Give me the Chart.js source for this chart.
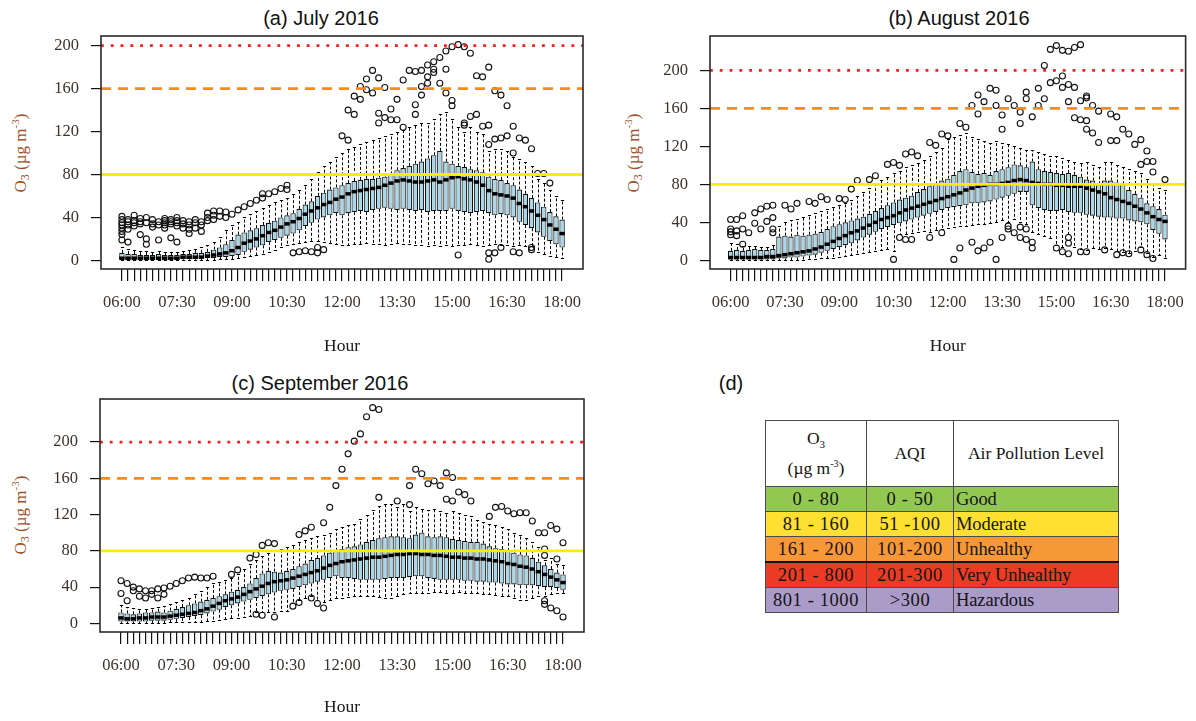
<!DOCTYPE html>
<html>
<head>
<meta charset="utf-8">
<title>Diurnal O3 distributions, summer 2016</title>
<script src="https://cdn.jsdelivr.net/npm/chart.js@4.4.1/dist/chart.umd.min.js"></script>
<style>
  html, body { margin: 0; padding: 0; background: #fff; }
  #page { position: relative; width: 1196px; height: 721px; overflow: hidden; background: #fff; }
  #page canvas { position: absolute; }
  .panel-title { position: absolute; transform: translate(-50%, -50%); font-family: "Liberation Sans", Arial, sans-serif; font-size: 20px; color: #111; white-space: nowrap; }
  .ylab { position: absolute; transform: translate(-50%, -50%) rotate(-90deg); font-family: "Liberation Serif", "Times New Roman", serif; font-size: 17px; color: #a0522d; white-space: nowrap; }
  .ylab sub { font-size: 12px; vertical-align: -3px; }
  .ylab sup { font-size: 11px; vertical-align: 7px; }
  table.aqi { position: absolute; left: 765px; top: 420px; border-collapse: collapse; table-layout: fixed; font-family: "Liberation Serif", "Times New Roman", serif; color: #141414; }
  table.aqi td { border: 1px solid #4a4a4a; padding: 0; text-align: center; vertical-align: middle; line-height: 1; }
  table.aqi tr.head td { height: 65px; background: #fff; font-size: 17.5px; }
  table.aqi tr.head td .l1 { display: block; margin-bottom: 9px; }
  table.aqi tr.band td { height: 24px; font-size: 18.5px; letter-spacing: 0.6px; }
  table.aqi tr.band td.level { text-align: left; padding-left: 2px; letter-spacing: -0.1px; }
  table.aqi tr.heavy td { border-top: 2.5px solid #111; }
  table.aqi sub { font-size: 11px; vertical-align: -4px; }
  table.aqi sup { font-size: 10px; vertical-align: 7px; }
</style>
</head>
<body>
<div id="page">
  <div class="panel-title" style="left:321px; top:18px;">(a) July 2016</div>
  <div class="panel-title" style="left:959px; top:18px;">(b) August 2016</div>
  <div class="panel-title" style="left:320px; top:383px;">(c) September 2016</div>
  <div class="panel-title" style="left:731px; top:383px;">(d)</div>

  <div class="ylab" style="left:21px; top:153px;">O<sub>3</sub> (µg m<sup>-3</sup>)</div>
  <div class="ylab" style="left:634px; top:153px;">O<sub>3</sub> (µg m<sup>-3</sup>)</div>
  <div class="ylab" style="left:21px; top:515px;">O<sub>3</sub> (µg m<sup>-3</sup>)</div>

  <canvas id="julyChart" width="598" height="360" style="left:0; top:0;"></canvas>
  <canvas id="augChart" width="598" height="360" style="left:598px; top:0;"></canvas>
  <canvas id="sepChart" width="598" height="361" style="left:0; top:360px;"></canvas>

  <table class="aqi" id="aqiTable">
    <colgroup><col style="width:101px"><col style="width:87px"><col style="width:165px"></colgroup>
    <tr class="head">
      <td><span class="l1">O<sub>3</sub></span>(µg m<sup>-3</sup>)</td>
      <td>AQI</td>
      <td>Air Pollution Level</td>
    </tr>
  </table>
</div>

<script>
// ---- time axis: one box every 10 minutes from 06:00 to 18:00 ----
const slotCount = 73;
const slotIndex = Array.from({ length: slotCount }, (_, i) => i);
const slotTimes = slotIndex.map(i => {
  const m = 360 + 10 * i;
  return String(Math.floor(m / 60)).padStart(2, '0') + ':' + String(m % 60).padStart(2, '0');
});
const hourLabels = ['06:00', '07:30', '09:00', '10:30', '12:00', '13:30', '15:00', '16:30', '18:00'];
const yTickValues = [0, 40, 80, 120, 160, 200];

// AQI concentration limits drawn as guide lines (µg m-3)
const limitGood = 80;
const limitModerate = 160;
const limitUnhealthy = 200;

// ---- (a) July 2016 ----
const julyLower = [
  0,0,0,0,0,0,0,0,0,
  0,0,0,0,0,0,0,1,1,
  1,2,3,4,5,6,8,10,12,
  14,15,16,17,18,18,17,16,15,
  14,14,15,15,16,15,15,14,15,
  16,15,15,14,14,13,14,13,14,
  13,14,14,15,14,13,14,15,14,
  14,13,14,13,13,8,6,4,3,
  2];
const julyQ1 = [
  1,1,1,1,1,1,1,1,1,
  1,1,1,1,2,2,2,3,3,
  4,5,8,10,12,14,17,19,21,
  23,25,28,32,35,38,40,42,44,
  42,44,45,46,45,47,48,49,48,
  47,48,47,46,47,45,46,46,46,
  48,46,45,44,45,46,44,42,43,
  42,40,36,33,30,26,22,18,15,
  12];
const julyMedian = [
  2,2,2,2,2,2,2,2,2,
  2,3,3,3,3,4,5,6,7,
  9,12,16,18,20,23,26,28,31,
  34,36,39,43,46,49,52,54,57,
  59,62,64,65,66,67,68,70,72,
  74,75,74,73,73,74,75,73,75,
  77,78,76,75,73,70,65,62,61,
  60,58,53,50,46,42,38,33,29,
  25];
const julyQ3 = [
  7,6,6,5,5,5,6,5,5,
  5,6,6,7,7,8,10,12,15,
  19,24,26,28,30,33,35,37,40,
  42,44,48,52,55,60,63,66,68,
  70,72,74,75,76,76,77,78,80,
  84,86,88,90,92,95,98,102,92,
  90,88,87,85,84,82,78,76,75,
  72,70,66,62,58,54,50,45,41,
  38];
const julyUpper = [
  12,11,10,9,9,8,9,8,8,
  8,9,10,11,12,14,17,22,28,
  33,36,40,43,46,49,52,54,56,
  58,62,66,70,76,82,88,92,96,
  100,104,106,108,110,112,114,116,118,
  120,121,124,126,128,128,132,136,138,
  132,124,120,124,120,118,102,104,104,
  102,96,94,92,88,76,72,66,60,
  56];
const julyOutliers = [
  [0,41],[0,38],[0,35],[0,33],[0,30],[0,27],[0,24],[0,19],
  [1,38],[1,36],[1,33],[1,29],[1,17],
  [2,42],[2,37],[2,35],[2,32],
  [3,39],[3,36],[3,34],[3,24],
  [4,40],[4,35],[4,20],[4,15],
  [5,38],[5,34],[5,31],
  [6,36],[6,33],[6,19],
  [7,39],[7,37],[7,35],[7,33],[7,30],
  [8,38],[8,36],[8,34],[8,21],
  [9,40],[9,37],[9,35],[9,32],[9,17],
  [10,37],[10,34],[10,30],
  [11,36],[11,33],[11,29],[11,25],
  [12,38],[12,35],[12,30],
  [13,36],[13,33],[13,27],
  [14,44],[14,40],[14,37],
  [15,46],[15,42],[15,38],
  [16,46],[16,41],[17,45],[17,40],
  [18,43],[19,47],
  [20,50],[21,53],[22,56],[23,58],[23,62],[24,62],[25,64],[26,67],[27,70],[27,66],
  [28,7],[29,8],[30,9],[31,8],[32,12],[33,10],[32,7],
  [36,116],[37,112],[37,140],[38,136],[38,153],[39,150],[39,162],[40,169],[41,177],[40,159],
  [41,156],[42,170],[43,161],[42,137],[42,128],[43,133],[44,141],[44,131],[45,150],[45,131],
  [46,124],[46,168],[47,177],[48,176],[48,145],[48,136],[49,177],[50,182],[50,171],[51,185],
  [51,178],[51,175],[49,162],[49,154],[50,165],[52,189],[52,165],[53,195],[54,199],[55,201],
  [56,199],[57,193],[53,178],[53,156],[54,149],[54,144],[56,126],[56,128],[58,172],[59,171],
  [60,180],[61,158],[62,154],[63,144],[57,134],[58,136],[59,125],[60,126],[60,108],[61,113],
  [62,114],[63,116],[64,125],[65,114],[66,112],[67,104],[64,100],[68,81],[69,81],[70,72],
  [55,5],[60,1],[60,7],[61,7],[62,12],[64,8],[65,7],[67,10],[67,12]
];

// ---- (b) August 2016 ----
const augLower = [
  0,0,0,0,0,0,0,0,0,
  0,0,0,0,1,1,2,2,3,
  4,5,6,7,8,9,10,11,12,
  10,28,28,29,30,31,30,32,33,
  34,35,36,36,37,38,38,39,40,
  42,40,44,40,38,30,28,26,24,
  16,14,28,14,12,11,13,12,13,
  12,10,9,8,10,14,8,4,6,
  2];
const augQ1 = [
  1,1,1,1,1,1,1,1,2,
  2,3,3,4,5,6,8,10,12,
  14,16,18,21,24,27,30,33,35,
  37,39,41,43,45,47,49,51,53,
  55,56,57,58,60,60,61,62,64,
  66,68,70,72,72,58,55,53,52,
  52,53,51,50,50,48,47,46,45,
  45,44,44,42,41,40,38,32,28,
  22];
const augMedian = [
  3,3,3,3,3,3,4,4,5,
  6,7,8,9,10,12,14,17,20,
  23,26,29,31,34,37,40,43,45,
  47,50,53,55,57,59,61,63,65,
  67,69,71,74,76,78,79,80,80,
  81,82,84,85,84,82,81,80,80,
  79,79,78,78,78,76,74,72,70,
  66,64,62,60,57,54,50,46,43,
  41];
const augQ3 = [
  10,11,10,11,12,11,11,12,25,
  26,25,27,26,27,28,30,33,36,
  38,40,42,44,46,49,52,55,58,
  61,64,66,68,72,75,78,80,84,
  86,90,94,96,93,91,92,90,94,
  96,98,101,100,98,104,96,94,93,
  92,91,92,90,88,85,84,80,84,
  84,82,80,74,70,66,60,57,54,
  48];
const augUpper = [
  18,17,15,15,15,14,14,16,36,
  40,42,44,46,48,50,52,54,56,
  58,60,64,68,72,76,80,85,88,
  92,94,98,100,102,106,110,114,118,
  128,130,132,134,130,128,126,124,126,
  124,122,120,118,116,116,114,112,110,
  110,108,106,104,102,104,100,98,104,
  104,100,98,96,94,92,86,80,76,
  74];
const augOutliers = [
  [0,43],[0,33],[0,27],[0,30],[1,43],[1,26],[1,31],[2,47],[2,17],[2,33],
  [3,29],[4,50],[4,39],[5,54],[5,33],[6,57],[6,41],[7,58],[7,45],[7,33],[7,29],
  [9,58],[10,54],[11,60],[13,62],[14,60],[15,67],[16,64],[18,65],[19,64],
  [20,75],[21,84],[23,85],[24,89],[26,101],[27,103],[28,100],[29,112],[30,114],[31,110],
  [33,124],[34,121],[35,133],[36,131],[38,144],[39,140],[40,163],[41,154],[41,174],[42,167],
  [43,181],[44,179],[44,163],[45,153],[45,138],[46,170],[47,163],[48,144],[48,156],[49,177],
  [49,170],[51,163],[51,181],[52,170],[52,205],[50,151],
  [53,222],[54,226],[55,221],[56,220],[57,224],[58,227],[55,194],[53,187],[54,189],[55,182],
  [56,185],[57,182],[59,171],[59,173],[56,167],[58,168],[60,163],[61,157],[63,154],[64,151],
  [57,150],[58,148],[59,147],[59,138],[60,134],[61,124],[63,126],[64,126],[65,138],[66,133],
  [67,122],[68,127],[69,115],[68,101],[69,104],[70,104],[70,93],[72,85],
  [27,1],[28,24],[29,22],[30,22],[33,24],[35,29],[37,1],[38,13],[40,19],[41,10],
  [42,13],[43,19],[44,1],[45,24],[46,33],[47,29],[48,24],[49,22],[50,19],[50,13],
  [46,36],[48,35],[49,33],
  [54,13],[55,9],[56,7],[58,9],[59,9],[62,11],[64,6],[65,8],[66,7],[68,11],
  [69,6],[70,2],[56,24],[56,18]
];

// ---- (c) September 2016 ----
const sepLower = [
  0,0,0,0,0,0,0,0,1,
  1,1,2,2,2,3,3,4,5,
  6,6,7,8,12,12,13,13,14,
  14,22,26,28,30,26,24,26,28,
  28,29,30,30,30,30,29,28,28,
  30,32,34,34,33,34,35,35,34,
  34,35,34,34,33,32,32,31,30,
  30,28,26,26,28,30,30,32,33,
  34];
const sepQ1 = [
  2,2,2,2,2,3,3,3,4,
  5,6,7,8,9,11,13,15,18,
  20,22,24,26,28,30,32,34,36,
  37,38,40,42,44,46,48,50,52,
  50,50,49,48,48,48,48,49,50,
  50,50,51,52,52,50,49,48,48,
  48,48,47,47,46,46,45,45,44,
  43,43,42,42,42,41,40,40,39,
  37];
const sepMedian = [
  6,5,5,6,6,7,7,7,8,
  9,10,11,12,14,16,19,22,25,
  27,29,32,35,38,41,44,46,47,
  48,50,52,54,56,58,61,64,66,
  68,69,70,71,72,73,73,74,75,
  76,76,77,77,76,76,75,75,74,
  73,73,72,72,71,71,70,69,68,
  66,65,63,62,60,57,54,51,48,
  45];
const sepQ3 = [
  12,11,10,11,12,12,13,12,14,
  16,18,20,22,24,26,28,30,32,
  35,37,40,44,50,55,58,57,56,
  58,60,63,66,70,72,75,78,80,
  82,84,85,87,90,92,94,95,96,
  96,95,94,98,100,96,95,96,95,
  93,92,91,90,90,88,85,83,82,
  80,78,76,75,72,68,64,60,56,
  54];
const sepUpper = [
  20,18,17,16,16,17,18,19,21,
  24,26,28,32,36,40,44,46,48,
  50,55,60,66,70,74,78,80,82,
  84,86,90,92,94,96,98,100,104,
  106,108,110,115,120,125,130,132,132,
  128,132,124,128,126,125,126,124,122,
  124,122,120,118,114,112,110,108,106,
  104,100,98,94,90,84,70,72,66,
  64];
const sepOutliers = [
  [0,47],[1,44],[0,33],[2,40],[3,38],[1,25],[2,36],[4,36],[5,36],[6,38],
  [7,39],[8,41],[9,44],[10,47],[11,50],[12,51],[13,50],[4,28],[6,28],[5,32],
  [7,32],[3,30],[14,50],[15,52],
  [18,54],[19,59],[21,72],[22,76],[23,86],[24,89],[25,88],[29,98],[30,102],[31,106],
  [33,111],[34,128],[35,152],[36,170],[37,187],[38,201],[39,209],[40,228],[41,238],[42,236],
  [42,139],[45,135],[47,152],[47,131],[48,170],[49,165],[50,154],[51,157],[52,152],[53,166],
  [54,161],[53,137],[54,135],[55,145],[56,142],[57,135],[60,118],[61,128],[62,129],[63,124],
  [64,121],[65,122],[66,122],[67,113],[68,100],[69,100],[70,108],[71,104],[72,89],[69,82],
  [69,75],[71,71],
  [22,10],[23,9],[25,7],[28,19],[29,23],[31,28],[32,22],[33,17],
  [69,25],[69,21],[70,17],[71,14],[72,7]
];

// ---- (d) AQI classes ----
const bandConcentration = ['0 - 80', '81 - 160', '161 - 200', '201 - 800', '801 - 1000'];
const bandAqi = ['0 - 50', '51 -100', '101-200', '201-300', '>300'];
const bandLevel = ['Good', 'Moderate', 'Unhealthy', 'Very Unhealthy', 'Hazardous'];
const bandColor = ['#92c851', '#fde031', '#f79838', '#ec3b25', '#ab9bc8'];

const table = document.getElementById('aqiTable');
bandLevel.forEach((level, i) => {
  const tr = document.createElement('tr');
  tr.className = 'band' + (level === 'Very Unhealthy' ? ' heavy' : '');
  tr.style.background = bandColor[i];
  [bandConcentration[i], bandAqi[i], level].forEach((txt, c) => {
    const td = document.createElement('td');
    td.textContent = txt;
    if (c === 2) td.className = 'level';
    tr.appendChild(td);
  });
  table.appendChild(tr);
});

// ---- box-and-whisker drawing around the floating bar dataset ----
const crisp = v => Math.round(v) + 0.5;

const boxWhiskerPlugin = {
  id: 'boxWhiskers',
  beforeDatasetDraw(chart, args) {
    const ds = chart.data.datasets[args.index];
    if (!ds.whiskers) return;
    const yScale = chart.scales.y;
    const ctx = chart.ctx;
    ctx.save();
    ctx.strokeStyle = '#000';
    args.meta.data.forEach((bar, i) => {
      const px = crisp(bar.x);
      const cap = Math.max(1.5, bar.width * 0.3);
      const yHi = crisp(yScale.getPixelForValue(ds.whiskers.upper[i]));
      const yLo = crisp(yScale.getPixelForValue(ds.whiskers.lower[i]));
      const yQ3 = yScale.getPixelForValue(ds.data[i].y[1]);
      const yQ1 = yScale.getPixelForValue(ds.data[i].y[0]);
      ctx.lineWidth = 1;
      ctx.setLineDash([3, 2]);
      ctx.beginPath();
      ctx.moveTo(px, yQ3); ctx.lineTo(px, yHi);
      ctx.moveTo(px, yQ1); ctx.lineTo(px, yLo);
      ctx.stroke();
      ctx.setLineDash([]);
      ctx.beginPath();
      ctx.moveTo(px - cap, yHi); ctx.lineTo(px + cap, yHi);
      ctx.moveTo(px - cap, yLo); ctx.lineTo(px + cap, yLo);
      ctx.stroke();
    });
    ctx.restore();
  },
  afterDatasetDraw(chart, args) {
    const ds = chart.data.datasets[args.index];
    if (!ds.medians) return;
    const yScale = chart.scales.y;
    const ctx = chart.ctx;
    ctx.save();
    ctx.strokeStyle = '#000';
    ctx.lineWidth = 3.5;
    ctx.lineCap = 'butt';
    args.meta.data.forEach((bar, i) => {
      const py = yScale.getPixelForValue(ds.medians[i]);
      ctx.beginPath();
      ctx.moveTo(bar.x - bar.width / 2, py);
      ctx.lineTo(bar.x + bar.width / 2, py);
      ctx.stroke();
    });
    ctx.restore();
  },
  afterDraw(chart) {
    const { left, top, width, height } = chart.chartArea;
    const ctx = chart.ctx;
    ctx.save();
    ctx.strokeStyle = '#2a2a2a';
    ctx.lineWidth = 1.6;
    ctx.strokeRect(left, top, width, height);
    ctx.restore();
  }
};

const serif = '"Liberation Serif", "Times New Roman", serif';
const tickColor = '#3b322c';

function paddedRange(values) {
  const lo = Math.min(...values);
  const hi = Math.max(...values);
  const pad = 0.04 * (hi - lo);
  return [lo - pad, hi + pad];
}

function buildPanel(canvasId, s, frame) {
  const xPad = 0.04 * slotCount;
  const xMin = -0.5 - xPad;
  const xMax = slotCount - 0.5 + xPad;
  const [yMin, yMax] = paddedRange([...s.lower, ...s.upper, ...s.outliers.map(o => o[1])]);

  const boxes = slotIndex.map(i => ({ x: i, y: [s.q1[i], s.q3[i]] }));
  const guide = v => [{ x: xMin, y: v }, { x: xMax, y: v }];

  new Chart(document.getElementById(canvasId), {
    type: 'bar',
    data: {
      datasets: [
        {
          type: 'line', data: guide(limitUnhealthy), borderColor: '#ff1a1a', borderWidth: 2.8,
          borderDash: [2.8, 7], pointRadius: 0, order: 0
        },
        {
          type: 'line', data: guide(limitModerate), borderColor: '#ff8a12', borderWidth: 2.8,
          borderDash: [10, 7], pointRadius: 0, order: 0
        },
        {
          type: 'line', data: guide(limitGood), borderColor: '#f7ef00', borderWidth: 2.8,
          pointRadius: 0, order: 0
        },
        {
          type: 'scatter', data: s.outliers.map(([i, v]) => ({ x: i, y: v })),
          pointStyle: 'circle', pointRadius: 3, pointBorderWidth: 1.1,
          pointBorderColor: '#111', pointBackgroundColor: 'rgba(0,0,0,0)', order: 1
        },
        {
          type: 'bar', data: boxes,
          whiskers: { lower: s.lower, upper: s.upper },
          medians: s.median,
          backgroundColor: '#a9d7e8', borderColor: '#111', borderWidth: 1.1,
          borderSkipped: false, barPercentage: 0.88, categoryPercentage: 1, order: 2
        }
      ]
    },
    options: {
      responsive: false,
      maintainAspectRatio: false,
      animation: false,
      devicePixelRatio: 1,
      layout: { padding: { left: 0, right: frame.padRight, top: frame.padTop, bottom: 0 } },
      plugins: { legend: { display: false }, tooltip: { enabled: false } },
      scales: {
        x: {
          type: 'linear', min: xMin, max: xMax, offset: false,
          afterBuildTicks: scale => { scale.ticks = slotIndex.map(v => ({ value: v })); },
          afterFit: scale => { scale.height = frame.xAxisHeight; },
          grid: { drawOnChartArea: false, drawTicks: true, tickLength: 12, color: '#111', lineWidth: 1.2, offset: false },
          border: { display: false },
          ticks: {
            autoSkip: false, maxRotation: 0, minRotation: 0, padding: 12, color: tickColor,
            font: { family: serif, size: 16.5 },
            callback: v => (hourLabels.includes(slotTimes[v]) ? slotTimes[v] : '')
          },
          title: {
            display: true, text: 'Hour', color: '#1a1a1a',
            font: { family: serif, size: 17.5 }, padding: { top: 0, bottom: 3 }
          }
        },
        y: {
          type: 'linear', min: yMin, max: yMax,
          afterBuildTicks: scale => { scale.ticks = yTickValues.map(v => ({ value: v })); },
          afterFit: scale => { scale.width = frame.yAxisWidth; },
          grid: { drawOnChartArea: false, drawTicks: true, tickLength: 10, color: '#111', lineWidth: 1.2 },
          border: { display: false },
          ticks: { padding: 12, color: tickColor, font: { family: serif, size: 16.5 } }
        }
      }
    },
    plugins: [boxWhiskerPlugin]
  });
}

buildPanel('julyChart',
  { lower: julyLower, q1: julyQ1, median: julyMedian, q3: julyQ3, upper: julyUpper, outliers: julyOutliers },
  { yAxisWidth: 101, padRight: 15, padTop: 36, xAxisHeight: 91 });
buildPanel('augChart',
  { lower: augLower, q1: augQ1, median: augMedian, q3: augQ3, upper: augUpper, outliers: augOutliers },
  { yAxisWidth: 112, padRight: 3, padTop: 36, xAxisHeight: 91 });
buildPanel('sepChart',
  { lower: sepLower, q1: sepQ1, median: sepMedian, q3: sepQ3, upper: sepUpper, outliers: sepOutliers },
  { yAxisWidth: 100, padRight: 14, padTop: 39, xAxisHeight: 89 });
</script>
</body>
</html>
